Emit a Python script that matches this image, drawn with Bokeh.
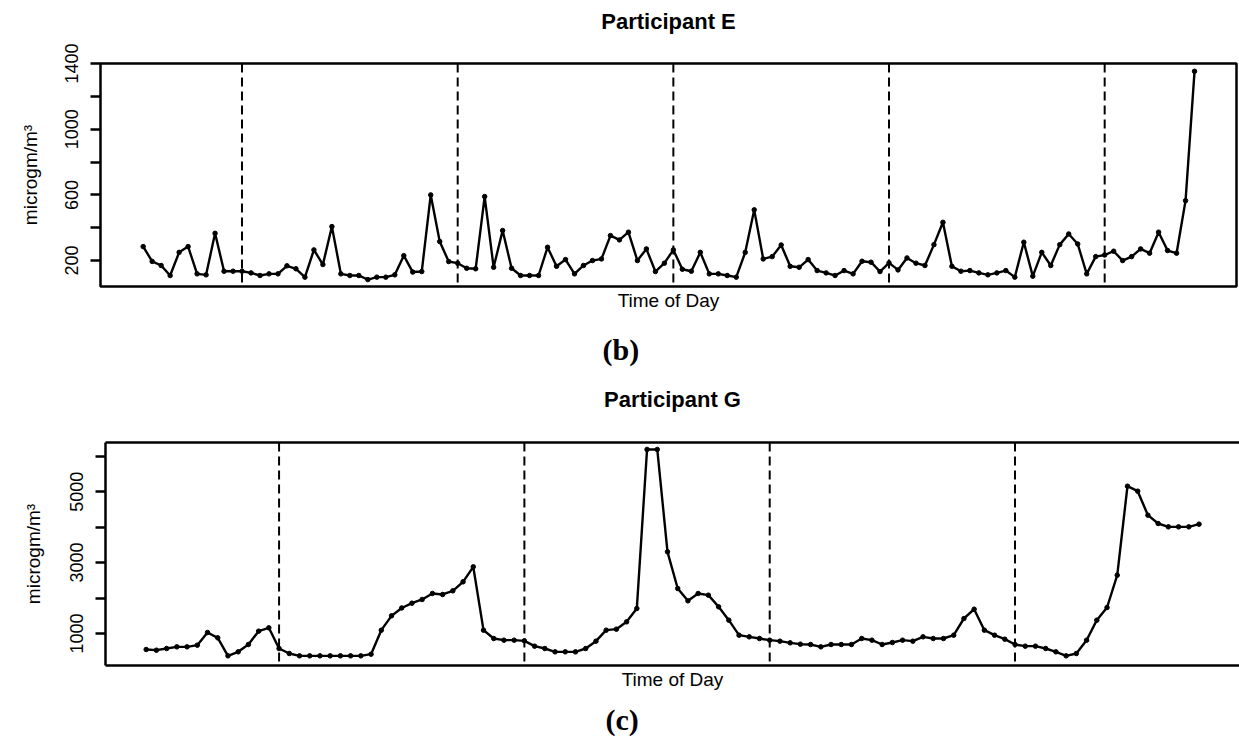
from bokeh.plotting import figure
from bokeh.models import Span, FixedTicker, Title, LinearAxis, Range1d, ColumnDataSource, Spacer
from bokeh.layouts import column, row
from bokeh.embed import file_html
from bokeh.resources import INLINE

# ---------------- data (hourly readings) ----------------
e_title = "Participant E"
e_start_hour = 13
e_values = [285, 195, 170, 109, 250, 285, 119, 113, 366, 135, 135, 135, 125, 109, 119, 119,
            168, 150, 99, 265, 176, 407, 119, 109, 109, 84, 99, 99, 113, 230, 130, 133,
            600, 316, 194, 184, 153, 150, 590, 159, 383, 153, 109, 109, 109, 281, 165, 206,
            119, 170, 200, 210, 352, 326, 373, 200, 271, 133, 184, 265, 147, 135, 250, 119,
            119, 109, 99, 250, 509, 210, 224, 295, 165, 159, 206, 139, 125, 109, 139, 119,
            196, 190, 133, 186, 143, 216, 184, 170, 297, 433, 165, 135, 139, 125, 113, 125,
            139, 99, 312, 105, 250, 170, 297, 362, 301, 119, 224, 234, 257, 200, 224, 271,
            245, 373, 261, 245, 565, 1353]
e_ticks = [200, 400, 600, 800, 1000, 1200, 1400]
e_tick_labels = ["200", "", "600", "", "1000", "", "1400"]

g_title = "Participant G"
g_start_hour = 11
g_values = [549, 530, 577, 624, 624, 671, 1028, 878, 370, 483, 690, 1066, 1160,
            577, 436, 370, 370, 370, 370, 370, 370, 370, 417,
            1094, 1498, 1720, 1855, 1959, 2128, 2100, 2203, 2457, 2880,
            1094, 859, 812, 812, 793, 643, 577, 483, 483, 483, 577, 784, 1094, 1122, 1329, 1705,
            6189, 6189, 3303, 2269, 1921, 2128, 2081, 1752, 1376, 953, 906, 859, 812, 784, 737, 699, 690,
            624, 690, 690, 690, 859, 812, 690, 746, 812, 784, 906, 859, 859, 953, 1423, 1686, 1094, 953,
            840, 690, 643, 643, 577, 483, 370, 436, 812, 1376, 1733, 2645, 5154, 5013, 4336, 4101,
            4007, 4007, 4007, 4083]
g_ticks = [1000, 2000, 3000, 4000, 5000, 6000]
g_tick_labels = ["1000", "", "3000", "", "5000", ""]

x_label = "Time of Day"
y_label = "microgm/m\u00b3"
panel_letters = ["(b)", "(c)"]

SANS = "Liberation Sans"
SERIF = "Liberation Serif"


def spacer_axis(size, loc, line=False):
    # an axis with one invisible tick, used only to reserve vertical space
    ax = LinearAxis(ticker=FixedTicker(ticks=[loc], minor_ticks=[]), major_tick_out=size,
                    major_tick_in=0, major_label_standoff=0, major_tick_line_color=None,
                    minor_tick_line_color=None, major_label_overrides={loc: ""},
                    major_label_text_font_size="1px")
    if line:
        ax.axis_line_color = "black"
        ax.axis_line_width = 2.5
    else:
        ax.axis_line_color = None
    return ax


def make_panel(title, values, start_hour, ticks, tick_labels, letter, *,
               width, x_range, y_range, height, border_left, border_right, border_top,
               border_bottom, top_gap, letter_gap, ylab_standoff, letter_offset, open_right):
    idx = list(range(len(values)))
    hours = [(start_hour + i) % 24 for i in idx]
    src = ColumnDataSource(dict(x=idx, y=values))

    p = figure(width=width, height=height, x_range=Range1d(*x_range), y_range=Range1d(*y_range),
               output_backend="svg", toolbar_location=None,
               min_border_left=border_left, min_border_right=border_right,
               min_border_top=border_top, min_border_bottom=border_bottom)
    p.background_fill_color = "white"
    p.border_fill_color = "white"
    p.xgrid.visible = False
    p.ygrid.visible = False

    if open_right:
        p.outline_line_color = None
    else:
        p.outline_line_color = "black"
        p.outline_line_width = 2.5

    # day boundaries (midnight)
    for i, h in zip(idx, hours):
        if h == 0 and i > 0:
            p.add_layout(Span(location=i, dimension="height", line_color="black",
                              line_width=2, line_dash="9 5"))

    p.line("x", "y", source=src, line_color="black", line_width=2.4)
    p.scatter("x", "y", source=src, marker="circle", size=4.5, fill_color="black",
              line_color="black")

    ya = p.left[0]
    ya.ticker = FixedTicker(ticks=ticks, minor_ticks=[])
    ya.major_label_overrides = {t: lab for t, lab in zip(ticks, tick_labels)}
    ya.major_label_orientation = "vertical"
    ya.major_label_text_font = SANS
    ya.major_label_text_font_size = "18px"
    ya.major_label_text_color = "black"
    ya.major_label_standoff = 12
    ya.major_tick_out = 10
    ya.major_tick_in = 0
    ya.major_tick_line_width = 2.3
    ya.major_tick_line_color = "black"
    ya.axis_label = y_label
    ya.axis_label_text_font = SANS
    ya.axis_label_text_font_size = "19px"
    ya.axis_label_text_font_style = "normal"
    ya.axis_label_text_color = "black"
    ya.axis_label_standoff = ylab_standoff
    if open_right:
        ya.axis_line_color = "black"
        ya.axis_line_width = 2.5
    else:
        ya.axis_line_color = None

    xa = p.below[0]
    xa.ticker = FixedTicker(ticks=[], minor_ticks=[])
    xa.major_tick_out = 0
    xa.major_tick_in = 0
    xa.major_label_standoff = 0
    xa.axis_label = x_label
    xa.axis_label_text_font = SANS
    xa.axis_label_text_font_size = "19px"
    xa.axis_label_text_font_style = "normal"
    xa.axis_label_text_color = "black"
    xa.axis_label_standoff = 3
    if open_right:
        xa.axis_line_color = "black"
        xa.axis_line_width = 2.5
    else:
        xa.axis_line_color = None

    # title: spacer next to the frame, then the title text above it
    p.add_layout(spacer_axis(top_gap, idx[0], line=open_right), "above")
    p.add_layout(Title(text=title, align="center", standoff=0, vertical_align="bottom",
                       text_font=SANS, text_font_size="22px", text_font_style="bold",
                       text_color="black"), "above")

    # panel letter below the axis title
    p.add_layout(spacer_axis(letter_gap, idx[0]), "below")
    p.add_layout(Title(text=letter, align="left", offset=letter_offset, vertical_align="top",
                       standoff=0, text_font=SERIF, text_font_size="30px",
                       text_font_style="bold", text_color="black"), "below")
    return p


pe = make_panel(e_title, e_values, e_start_hour, e_ticks, e_tick_labels, panel_letters[0],
                width=1239, x_range=(-4.75, 121.67), y_range=(42, 1400.5), height=370,
                border_left=100, border_right=3, border_top=63, border_bottom=84,
                top_gap=30, letter_gap=19, ylab_standoff=22, letter_offset=502,
                open_right=False)

pg = make_panel(g_title, g_values, g_start_hour, g_ticks, g_tick_labels, panel_letters[1],
                width=1234, x_range=(-3.98, 106.96), y_range=(98, 6385), height=370,
                border_left=100, border_right=0, border_top=72, border_bottom=75,
                top_gap=31, letter_gap=10, ylab_standoff=24, letter_offset=500,
                open_right=True)

layout = column(pe, row(Spacer(width=5, height=370), pg, spacing=0), spacing=0)
open("out.html", "w").write(file_html(layout, INLINE))
